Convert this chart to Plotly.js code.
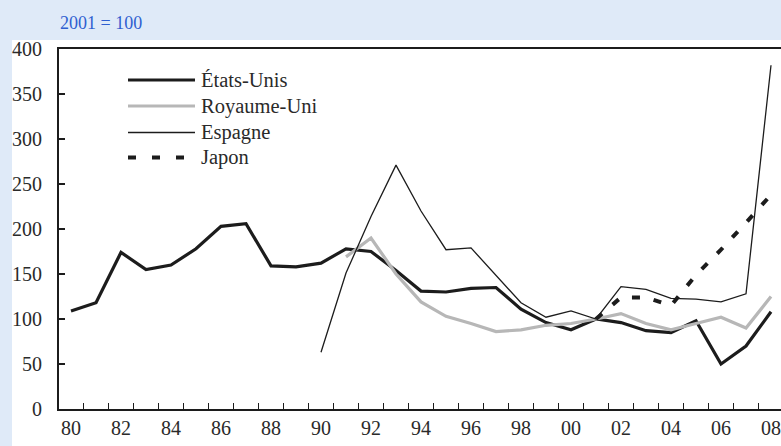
<!DOCTYPE html>
<html>
<head>
<meta charset="utf-8">
<script src="https://cdn.plot.ly/plotly-3.0.1.min.js"></script>
<style>html,body{margin:0;padding:0;background:#dfeaf8;}#chart{width:781px;height:446px;}
#fontwarm{position:absolute;left:0;top:0;opacity:0;pointer-events:none;font-family:'Liberation Serif';font-size:19px;}</style>
</head>
<body>
<div id="fontwarm">États-Unis Royaume-Uni Espagne Japon 0123456789 = </div>
<div id="chart"></div>
<script>
// ---- data ----
var years = [1980,1981,1982,1983,1984,1985,1986,1987,1988,1989,1990,1991,1992,1993,1994,1995,1996,1997,1998,1999,2000,2001,2002,2003,2004,2005,2006,2007,2008];
var usValues = [109,118,174,155,160,178,203,206,159,158,162,178,175,154,131,130,134,135,111,96,88,100,96,87,85,98,50,70,108];
var ukValues = [null,null,null,null,null,null,null,null,null,null,null,169,190,150,119,103,95,86,88,93,95,100,106,95,88,95,102,90,125];
var esValues = [null,null,null,null,null,null,null,null,null,null,63,151,214,271,220,177,179,148,118,102,109,100,136,133,123,122,119,128,382];
var jpValues = [null,null,null,null,null,null,null,null,null,null,null,null,null,null,null,null,null,null,null,null,null,100,124,124,115,149,177,207,238];
var seriesNames = ['États-Unis','Royaume-Uni','Espagne','Japon'];
var tickYears = [1980,1982,1984,1986,1988,1990,1992,1994,1996,1998,2000,2002,2004,2006,2008];
var tickLabels = ['80','82','84','86','88','90','92','94','96','98','00','02','04','06','08'];
var yTicks = [0,50,100,150,200,250,300,350,400];
var headerText = '2001 = 100';

var halfYears = years.slice(0, years.length - 1).map(function (y) { return y + 0.5; });

// ---- geometry helpers (pixel -> paper) ----
var W = 781, H = 446, L = 59, R = 0, T = 49, B = 37;
var PW = W - L - R, PH = H - T - B;
function px(x) { return (x - L) / PW; }
function py(y) { return (H - B - y) / PH; }

var FONT = 'Liberation Serif';
var BLACK = '#1c1c1c', GREY = '#b7b7b7', TEXT = '#2a2a2a';
var JP_DASH = '8px,14px';

var traces = [
  {x: years, y: usValues, name: seriesNames[0], mode: 'lines', line: {color: BLACK, width: 3.2}},
  {x: years, y: ukValues, name: seriesNames[1], mode: 'lines', line: {color: GREY, width: 3.2}},
  {x: years, y: esValues, name: seriesNames[2], mode: 'lines', line: {color: BLACK, width: 1.3}},
  {x: years, y: jpValues, name: seriesNames[3], mode: 'lines', line: {color: BLACK, width: 4, dash: JP_DASH}}
];

// legend drawn manually
var legendRows = [80, 106, 132.5, 157.5];
var legendStyles = [
  {color: BLACK, width: 3.2, dash: 'solid'},
  {color: GREY, width: 3.2, dash: 'solid'},
  {color: BLACK, width: 1.3, dash: 'solid'},
  {color: BLACK, width: 4, dash: '8px,16px'}
];

var shapes = [
  {type: 'rect', xref: 'paper', yref: 'paper', x0: px(12), x1: px(800), y0: py(460), y1: py(40),
   fillcolor: '#ffffff', line: {width: 0}, layer: 'below'}
];
var annotations = [
  {xref: 'paper', yref: 'paper', x: px(58), y: py(22.5), xanchor: 'left', yanchor: 'middle',
   text: headerText, showarrow: false, font: {family: FONT, size: 18, color: '#2f5fd0'}}
];
for (var i = 0; i < seriesNames.length; i++) {
  shapes.push({type: 'line', xref: 'paper', yref: 'paper', x0: px(128), x1: px(195), y0: py(legendRows[i]), y1: py(legendRows[i]),
    line: legendStyles[i], layer: 'above'});
  annotations.push({xref: 'paper', yref: 'paper', x: px(199), y: py(legendRows[i]), xanchor: 'left', yanchor: 'middle',
    text: seriesNames[i], showarrow: false, font: {family: FONT, size: 20.5, color: TEXT}});
}

var layout = {
  width: W, height: H,
  margin: {l: L, r: R, t: T, b: B, pad: 0},
  paper_bgcolor: '#dfeaf8',
  plot_bgcolor: 'rgba(0,0,0,0)',
  showlegend: false,
  font: {family: FONT, size: 18, color: TEXT},
  xaxis: {
    range: [1980 - 12 / 25, 1980 - 12 / 25 + PW / 25],
    tickmode: 'array', tickvals: tickYears, ticktext: tickLabels,
    ticks: '', showgrid: false, zeroline: false,
    showline: true, linecolor: BLACK, linewidth: 2, mirror: true,
    tickfont: {family: FONT, size: 20, color: TEXT},
    ticklabelstandoff: 0,
    minor: {tickmode: 'array', tickvals: halfYears, ticks: 'inside', ticklen: 6, tickwidth: 1.5, tickcolor: BLACK, showgrid: false},
    fixedrange: true
  },
  yaxis: {
    range: [0, 400],
    tickmode: 'array', tickvals: yTicks,
    ticks: 'inside', ticklen: 6, tickwidth: 1.5, tickcolor: BLACK,
    showgrid: false, zeroline: false,
    showline: true, linecolor: BLACK, linewidth: 2,
    tickfont: {family: FONT, size: 20, color: TEXT},
    ticklabelstandoff: 11,
    fixedrange: true
  },
  shapes: shapes,
  annotations: annotations
};

var config = {displayModeBar: false, staticPlot: true};
Plotly.newPlot('chart', traces, layout, config);
if (document.fonts && document.fonts.load) {
  document.fonts.load('19px "Liberation Serif"').then(function () {
    Plotly.newPlot('chart', traces, layout, config);
  });
}
</script>
</body>
</html>
